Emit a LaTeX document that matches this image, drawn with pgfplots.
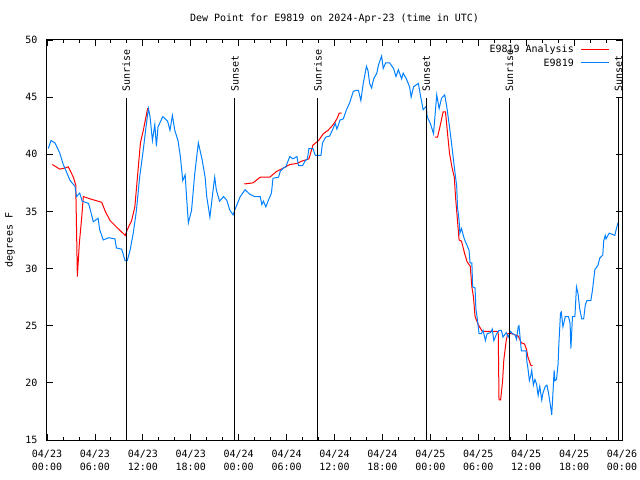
\documentclass[border=0pt]{standalone}
\usepackage{fontspec}
\setmainfont{DejaVu Sans Mono}
\usepackage{pgfplots}
\pgfplotsset{compat=1.18}
\definecolor{gpred}{RGB}{255,0,0}
\definecolor{gpblue}{RGB}{0,128,255}
\newcommand{\gpf}{\fontsize{10bp}{13.5bp}\selectfont}
\begin{document}
\begin{tikzpicture}
\path[use as bounding box] (-47bp,-40bp) rectangle (593bp,440bp);
\begin{axis}[
  at={(0,0)}, anchor=south west,
  width=575bp, height=400bp, scale only axis,
  xmin=0, xmax=72, ymin=15, ymax=50,
  xtick={0,6,...,72},
  xticklabels={{04/23\\00:00},{04/23\\06:00},{04/23\\12:00},{04/23\\18:00},{04/24\\00:00},{04/24\\06:00},{04/24\\12:00},{04/24\\18:00},{04/25\\00:00},{04/25\\06:00},{04/25\\12:00},{04/25\\18:00},{04/26\\00:00}},
  minor x tick num=2,
  ytick={15,20,...,50},
  /pgf/number format/assume math mode=true,
  tick align=inside,
  major tick length=6bp, minor tick length=3bp,
  tick style={black, line width=0.8bp},
  axis line style={black, line width=1bp},
  xticklabel style={align=center, inner sep=0pt, yshift=-9.5bp, font=\gpf},
  yticklabel style={inner sep=0pt, xshift=-9.5bp, font=\gpf},
  title={Dew Point for E9819 on 2024-Apr-23 (time in UTC)},
  title style={at={(axis description cs:0.5,1)}, anchor=center, yshift=15bp, font=\gpf},
  ylabel={degrees F},
  ylabel style={at={(axis description cs:-0.0643,0.5)}, anchor=center, font=\gpf},
]
% Analysis (red) segments
\addplot[gpred, line width=1bp, forget plot] coordinates {
(0.67,39.1) (1.6,38.7) (2.25,38.8) (2.67,38.9) (3.3,38.0) (3.6,37.3) (3.7,33.4) (3.8,29.3)
(4.05,32.2) (4.35,34.5) (4.55,36.3) (5.4,36.1) (6.85,35.8) (7.3,35.0) (7.9,34.2) (8.9,33.5)
(9.8,32.9) (10.05,33.4) (10.6,34.2) (11.0,35.4) (11.4,38.6) (11.7,41.0) (12.06,42.1)
(12.4,43.3) (12.6,44.0) (12.8,44.0)
};
\addplot[gpred, line width=1bp, forget plot] coordinates {
(24.7,37.4) (25.8,37.5) (26.7,38.0) (27.9,38.0) (28.75,38.5) (29.6,38.8) (30.4,39.1) (31.3,39.2)
(31.9,39.4) (32.8,39.6) (33.3,40.8) (34.0,41.2) (34.6,41.8) (35.2,42.1) (35.85,42.6) (36.3,43.1)
(36.6,43.6) (36.9,43.6)
};
\addplot[gpred, line width=1bp, forget plot] coordinates {
(48.6,41.5) (48.9,41.5) (49.2,42.4) (49.6,43.7) (49.9,43.7) (50.2,41.5) (50.4,40.1) (50.7,38.9)
(51.0,38.0) (51.15,36.3) (51.4,34.2) (51.6,32.5) (51.9,32.4) (52.3,31.3) (52.6,30.6) (53.0,30.2)
(53.2,28.4) (53.4,27.5) (53.6,25.8) (54.0,25.1) (54.5,24.5) (55.2,24.5) (56.3,24.5) (56.5,24.5)
(56.6,18.5) (56.8,18.5) (57.05,20.2) (57.2,22.0) (57.5,23.7) (57.7,24.3) (58.2,24.3) (58.6,24.2)
(59.0,24.1) (59.4,23.5) (59.8,23.4) (60.05,22.9) (60.2,22.3) (60.5,21.7) (60.6,21.5) (60.8,21.5)
};
\addplot[gpblue, line width=1bp, forget plot] coordinates {
(0.16,40.5) (0.5,41.2) (1.0,41.0) (1.6,40.1) (2.04,39.1) (2.9,37.7) (3.5,37.2) (3.7,36.3)
(4.1,36.6) (4.4,35.9) (5.2,35.7) (5.4,35.2) (5.8,34.1) (6.4,34.4) (6.6,33.4) (7.05,32.5)
(7.7,32.7) (8.5,32.6) (8.7,31.8) (9.35,31.7) (9.77,30.7) (10.05,30.7) (10.4,31.6) (10.8,33.1)
(11.2,35.1) (11.6,38.0) (12.06,40.4) (12.4,42.4) (12.7,44.0) (12.9,43.3) (13.2,41.2) (13.5,42.6)
(13.7,40.7) (13.9,42.4) (14.5,43.3) (15.1,42.9) (15.4,42.1) (15.7,43.4) (16.0,42.1) (16.4,41.2)
(16.7,39.8) (17.0,37.7) (17.3,38.2) (17.5,36.0) (17.7,34.0) (18.1,35.1) (18.5,38.3) (18.95,41.0)
(19.4,39.6) (19.8,38.0) (20.0,36.3) (20.4,34.5) (20.7,36.3) (21.0,38.0) (21.2,36.9) (21.6,35.9)
(22.1,36.3) (22.5,36.0) (22.9,35.1) (23.3,34.7) (23.5,35.1) (24.2,36.3) (24.8,36.9) (25.4,36.5)
(26.0,36.3) (26.7,36.3) (26.9,35.6) (27.1,35.9) (27.4,35.4) (27.8,36.1) (28.1,36.6) (28.3,37.9)
(29.0,38.0) (29.2,38.5) (29.6,38.8) (29.9,38.9) (30.4,39.8) (30.8,39.6) (31.3,39.8) (31.5,39.0)
(32.0,39.0) (32.3,39.4) (32.6,39.6) (32.8,40.5) (33.3,40.5) (33.6,39.9) (34.3,39.9) (34.5,41.0)
(34.9,41.5) (35.4,41.6) (35.85,42.3) (36.1,42.7) (36.3,42.2) (36.7,43.0) (37.1,43.1) (37.5,43.9)
(37.9,44.5) (38.35,45.5) (38.7,45.6) (39.0,45.6) (39.3,44.7) (39.6,46.2) (40.0,47.7) (40.2,47.3)
(40.4,46.2) (40.65,45.8) (40.9,46.6) (41.3,47.1) (41.5,47.8) (41.9,48.6) (42.1,47.5) (42.4,48.0)
(42.9,48.0) (43.4,47.5) (43.7,46.8) (44.0,47.4) (44.4,46.6) (44.6,47.1) (45.0,46.6) (45.4,45.9)
(45.6,45.0) (45.9,45.9) (46.5,46.2) (46.8,45.0) (47.1,43.9) (47.5,44.2) (47.6,43.3) (48.0,42.7)
(48.4,41.8) (48.8,45.2) (49.1,44.0) (49.4,44.9) (49.8,45.2) (50.05,44.2) (50.4,42.4) (50.7,40.7)
(51.0,38.9) (51.3,37.2) (51.4,35.4) (51.6,34.2) (51.7,33.1) (51.9,33.5) (52.25,32.6) (52.55,32.1)
(52.85,31.6) (52.97,30.5) (53.2,30.5) (53.3,28.4) (53.6,28.3) (53.7,26.5) (53.9,25.5) (54.1,24.3)
(54.4,24.3) (54.6,24.6) (54.9,23.7) (55.1,24.3) (55.55,24.4) (55.75,24.7) (55.95,23.7) (56.3,24.3)
(56.6,24.6) (56.9,24.6) (57.1,24.0) (57.5,24.4) (57.75,24.0) (58.05,24.5) (58.3,24.3) (58.6,24.2)
(58.8,23.8) (59.0,24.9) (59.1,25.0) (59.3,23.5) (59.4,22.8) (60.0,22.8) (60.1,21.8) (60.2,21.4)
(60.4,20.2) (60.6,20.7) (60.7,21.1) (60.9,19.8) (61.1,20.3) (61.3,19.9) (61.5,18.9) (61.7,19.7)
(61.95,18.5) (62.1,19.1) (62.4,19.7) (62.6,19.8) (62.8,19.1) (63.0,18.2) (63.2,17.2) (63.4,19.7)
(63.5,21.1) (63.6,20.2) (63.8,20.3) (64.0,21.7) (64.1,23.5) (64.3,26.1) (64.4,26.2) (64.6,24.9)
(64.9,25.8) (65.3,25.8) (65.5,25.2) (65.6,23.0) (65.8,25.8) (66.1,25.8) (66.3,28.4) (66.5,27.8)
(66.7,26.5) (66.95,25.6) (67.2,25.6) (67.4,26.8) (67.6,27.2) (68.1,27.2) (68.3,28.1) (68.6,29.9)
(69.0,30.3) (69.2,30.9) (69.6,31.2) (69.7,32.4) (69.9,32.9) (70.0,32.6) (70.4,33.1) (71.1,32.9)
(71.3,33.5) (71.5,34.0) (71.6,34.0)
};
% sunrise / sunset markers
\addplot[black, line width=1bp, forget plot] coordinates {(9.9,15) (9.9,44.9)};
\addplot[black, line width=1bp, forget plot] coordinates {(23.54,15) (23.54,44.9)};
\addplot[black, line width=1bp, forget plot] coordinates {(33.93,15) (33.93,44.9)};
\addplot[black, line width=1bp, forget plot] coordinates {(47.5,15) (47.5,44.9)};
\addplot[black, line width=1bp, forget plot] coordinates {(57.9,15) (57.9,44.9)};
\addplot[black, line width=1bp, forget plot] coordinates {(71.55,15) (71.55,44.9)};
\node[rotate=90, anchor=west, inner sep=0pt, font=\gpf] at (axis cs:9.9,45.45) {Sunrise};
\node[rotate=90, anchor=west, inner sep=0pt, font=\gpf] at (axis cs:23.54,45.45) {Sunset};
\node[rotate=90, anchor=west, inner sep=0pt, font=\gpf] at (axis cs:33.93,45.45) {Sunrise};
\node[rotate=90, anchor=west, inner sep=0pt, font=\gpf] at (axis cs:47.5,45.45) {Sunset};
\node[rotate=90, anchor=west, inner sep=0pt, font=\gpf] at (axis cs:57.9,45.45) {Sunrise};
\node[rotate=90, anchor=west, inner sep=0pt, font=\gpf] at (axis cs:71.55,45.45) {Sunset};
% legend (gnuplot style: text, then line sample)
\node[anchor=east, inner sep=0pt, font=\gpf] at (axis description cs:0.9165,0.975) {E9819 Analysis};
\draw[gpred, line width=1bp] (axis description cs:0.9287,0.975) -- (axis description cs:0.9774,0.975);
\node[anchor=east, inner sep=0pt, font=\gpf] at (axis description cs:0.9165,0.9425) {E9819};
\draw[gpblue, line width=1bp] (axis description cs:0.9287,0.9425) -- (axis description cs:0.9774,0.9425);
\end{axis}
\end{tikzpicture}
\end{document}
